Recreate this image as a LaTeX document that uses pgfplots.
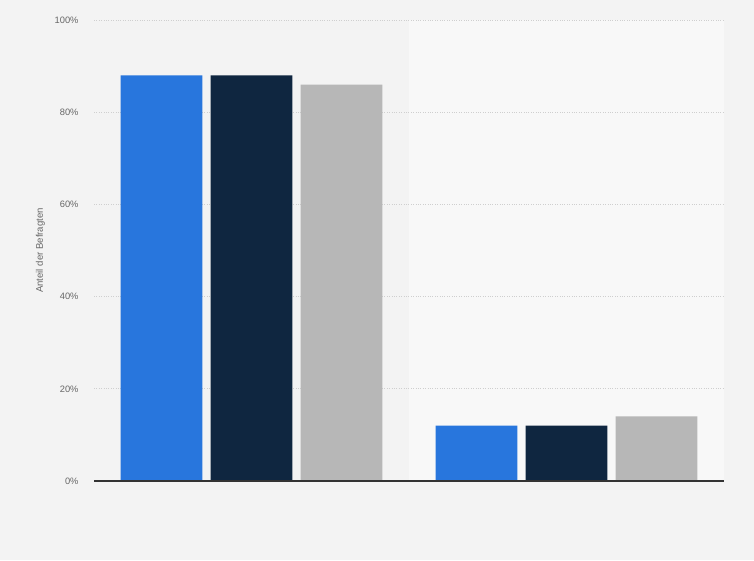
\documentclass[border=0pt]{standalone}
\usepackage{fontspec}
\setmainfont{Liberation Sans}
\usepackage{pgfplots}
\pgfplotsset{compat=1.18}

\definecolor{bgpage}{HTML}{F3F3F3}
\definecolor{bgright}{HTML}{F8F8F8}
\definecolor{cblue}{HTML}{2876DD}
\definecolor{cnavy}{HTML}{0F2640}
\definecolor{cgray}{HTML}{B7B7B7}
\definecolor{gridc}{HTML}{CFCFCF}
\definecolor{tickc}{HTML}{666666}

\begin{document}
\begin{tikzpicture}[x=1pt,y=1pt]
  \useasboundingbox (0,0) rectangle (754,560);
  \fill[bgpage] (0,0) rectangle (754,560);
  % lighter band behind the second group
  \fill[bgright] (409,79) rectangle (724,540);
  \begin{axis}[
    at={(94pt,79pt)}, anchor=south west,
    scale only axis, width=630pt, height=461pt,
    ybar, bar width=0.26,
    xmin=-0.5, xmax=1.5, ymin=0, ymax=100,
    xtick=\empty,
    ytick={0,20,40,60,80,100},
    yticklabel={\pgfmathprintnumber{\tick}\%},
    /pgf/number format/assume math mode=true,
    tick label style={font=\fontsize{9.3}{11}\selectfont, text=tickc},
    yticklabel style={xshift=-12pt},
    major tick length=0pt,
    ymajorgrids,
    grid style={gridc, dotted, line width=0.7pt},
    axis line style={draw=none},
    ylabel={Anteil der Befragten},
    ylabel style={at={(axis description cs:-0.085,0.5)}, anchor=center,
      font=\fontsize{9.6}{11}\selectfont, text=tickc},
    clip=false,
  ]
    \addplot[fill=cblue, draw=none, bar shift=-0.2857] coordinates {(0,88) (1,12)};
    \addplot[fill=cnavy, draw=none, bar shift=0] coordinates {(0,88) (1,12)};
    \addplot[fill=cgray, draw=none, bar shift=0.2857] coordinates {(0,86) (1,14)};
    \draw[color=black!80, line width=1.2pt] (rel axis cs:0,0) -- (rel axis cs:1,0);
  \end{axis}
\end{tikzpicture}
\end{document}
